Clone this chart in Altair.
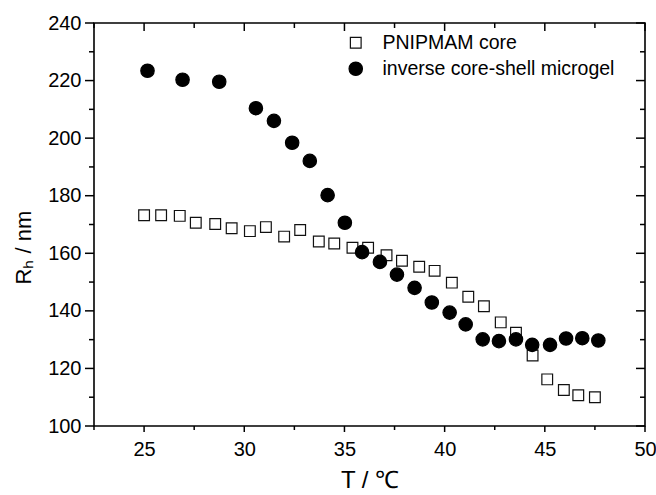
import altair as alt
import pandas as pd

# ---- data ----
series_names = ["PNIPMAM core", "inverse core-shell microgel"]

core_T = [25.0, 25.85, 26.78, 27.58, 28.55, 29.37, 30.28, 31.08, 31.99, 32.79,
          33.72, 34.49, 35.4, 36.18, 37.1, 37.87, 38.73, 39.5, 40.36, 41.18,
          41.96, 42.8, 43.56, 44.39, 45.12, 45.95, 46.67, 47.5]
core_R = [173.2, 173.2, 173.0, 170.6, 170.2, 168.7, 167.7, 169.1, 165.8, 168.1,
          164.1, 163.4, 161.9, 161.9, 159.3, 157.4, 155.3, 153.9, 149.8, 144.9,
          141.6, 136.0, 132.4, 124.5, 116.2, 112.5, 110.7, 110.0]

shell_T = [25.17, 26.92, 28.75, 30.58, 31.48, 32.39, 33.27, 34.16, 35.02, 35.88,
           36.77, 37.62, 38.5, 39.36, 40.25, 41.05, 41.9, 42.71, 43.56, 44.37,
           45.26, 46.06, 46.87, 47.67]
shell_R = [223.4, 220.3, 219.6, 210.4, 206.0, 198.4, 192.1, 180.2, 170.6, 160.4,
           157.0, 152.6, 148.0, 142.9, 139.4, 135.3, 130.1, 129.5, 130.1, 128.2,
           128.2, 130.4, 130.5, 129.7]

x_major = [25, 30, 35, 40, 45, 50]
x_minor = [22.5, 27.5, 32.5, 37.5, 42.5, 47.5]
y_major = [100, 120, 140, 160, 180, 200, 220, 240]
y_minor = [110, 130, 150, 170, 190, 210, 230]

df = pd.concat([
    pd.DataFrame({"T": core_T, "R": core_R, "series": series_names[0]}),
    pd.DataFrame({"T": shell_T, "R": shell_R, "series": series_names[1]}),
], ignore_index=True)

W, H = 551, 403
FONT = "Liberation Sans"
x_scale = alt.Scale(domain=[22.5, 50], nice=False, zero=False)
y_scale = alt.Scale(domain=[100, 240], nice=False, zero=False)

common_axis = dict(grid=False, domain=False, ticks=False,
                   labelFlush=False, labelFont=FONT, labelColor="black",
                   titleFont=FONT, titleColor="black", titleFontWeight="normal")

legend = alt.Legend(title=None, orient="none", legendX=252, legendY=10,
                    labelFont=FONT, labelFontSize=19.5, labelColor="black",
                    labelOffset=17, labelLimit=400, rowPadding=5, padding=0,
                    symbolStrokeColor="black", symbolStrokeWidth=1.2)

points = alt.Chart(df).mark_point(filled=True, strokeWidth=1.2, opacity=1).encode(
    x=alt.X("T:Q", scale=x_scale,
            axis=alt.Axis(orient="bottom", values=x_major, title="T / ℃",
                          labelFontSize=20, labelPadding=13,
                          titleFontSize=24, titlePadding=9, format="d",
                          **common_axis)),
    y=alt.Y("R:Q", scale=y_scale,
            axis=alt.Axis(orient="left", values=y_major, title="Rₕ / nm",
                          labelFontSize=20, labelPadding=13,
                          titleFontSize=22, titlePadding=12, titleY=224,
                          format="d", **common_axis)),
    shape=alt.Shape("series:N", scale=alt.Scale(domain=series_names, range=["square", "circle"]), legend=legend),
    fill=alt.Fill("series:N", scale=alt.Scale(domain=series_names, range=["white", "black"]), legend=legend),
    stroke=alt.Stroke("series:N", scale=alt.Scale(domain=series_names, range=["#111111", "black"]), legend=legend),
    size=alt.Size("series:N", scale=alt.Scale(domain=series_names, range=[115, 180]), legend=legend),
)


def x_ticks(values, y0, y1):
    return alt.Chart(pd.DataFrame({"v": values})).mark_rule(
        color="black", strokeWidth=1.5
    ).encode(x=alt.X("v:Q", scale=x_scale, axis=None),
             y=alt.value(y0), y2=alt.value(y1))


def y_ticks(values, x0, x1):
    return alt.Chart(pd.DataFrame({"v": values})).mark_rule(
        color="black", strokeWidth=1.5
    ).encode(y=alt.Y("v:Q", scale=y_scale, axis=None),
             x=alt.value(x0), x2=alt.value(x1))


ticks = [
    x_ticks(x_major, H, H + 6),     # bottom major (outward)
    x_ticks(x_minor, H, H + 4),     # bottom minor
    x_ticks(x_major, 0, 8),         # top major (inward)
    x_ticks(x_minor, 0, 5),         # top minor
    y_ticks(y_major, 0, -9),        # left major (outward)
    y_ticks(y_minor, 0, -5),        # left minor
    y_ticks(y_major, W, W - 9),     # right major (inward)
    y_ticks(y_minor, W, W - 5),     # right minor
]

chart = alt.layer(*ticks, points).resolve_axis(
    x="independent", y="independent"
).properties(
    width=W, height=H,
    autosize=alt.AutoSizeParams(type="none"),
    padding={"left": 94, "top": 23, "right": 11, "bottom": 69},
    background="white",
).configure_view(stroke="black", strokeWidth=1.6)

chart.save("out.html", embed_options={"renderer": "svg", "actions": False})
